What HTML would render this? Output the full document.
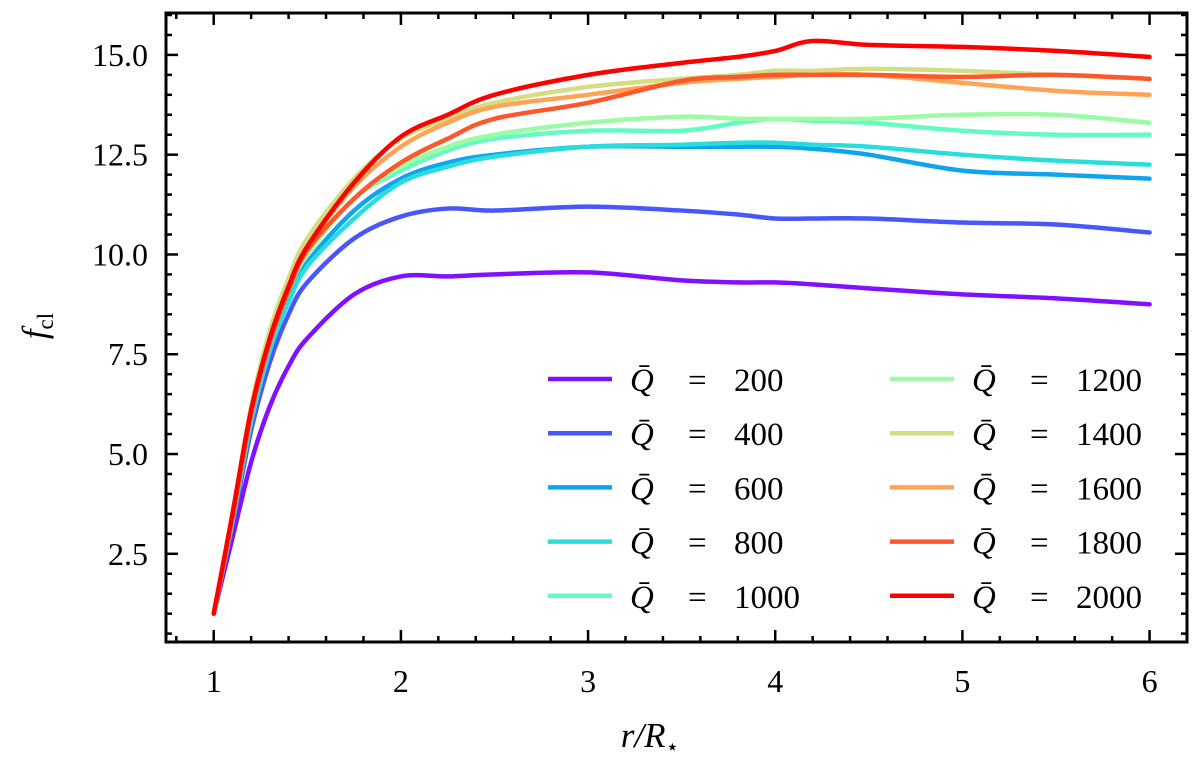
<!DOCTYPE html>
<html><head><meta charset="utf-8"><style>
html,body{margin:0;padding:0;background:#fff;}
svg{display:block;font-family:"Liberation Serif","DejaVu Serif",serif;}
</style></head><body>
<svg id="chart" width="1200" height="767" viewBox="0 0 1200 767" xmlns="http://www.w3.org/2000/svg">
<g id="lines"></g>
<g id="axes"></g>
<g id="legend"></g>
</svg>
<script>
const xs = [1,1.1,1.2,1.3,1.4,1.5,1.75,2,2.25,2.5,3,3.5,3.8,4,4.2,4.5,5,5.5,6];
const labels = ["200","400","600","800","1000","1200","1400","1600","1800","2000"];
const colors = ["#8010ff","#4757fb","#0ea4f0","#2adddd","#63fbc3","#9cfba4","#d4dd80","#ffa457","#ff572c","#ff0000"];
const q200  = [1,2.9,4.8,6.2,7.2,7.9,9.0,9.45,9.45,9.5,9.55,9.35,9.3,9.3,9.25,9.15,9.0,8.9,8.75];
const q400  = [1,3.2,5.6,7.3,8.5,9.3,10.4,10.95,11.15,11.1,11.2,11.1,11.0,10.9,10.9,10.9,10.8,10.75,10.55];
const q600  = [1,3.3,5.8,7.6,8.9,9.8,11.1,11.9,12.3,12.5,12.7,12.7,12.7,12.7,12.65,12.5,12.1,12.0,11.9];
const q800  = [1,3.3,5.8,7.6,8.8,9.7,10.9,11.8,12.2,12.45,12.7,12.75,12.8,12.8,12.75,12.7,12.5,12.35,12.25];
const q1000 = [1,3.4,6.0,7.8,9.1,10.0,11.4,12.1,12.6,12.9,13.1,13.1,13.3,13.4,13.35,13.3,13.1,13.0,13.0];
const q1200 = [1,3.4,6.0,7.8,9.1,10.0,11.4,12.2,12.7,13.0,13.3,13.45,13.4,13.4,13.4,13.4,13.5,13.5,13.3];
const q1400 = [1,3.5,6.2,8.1,9.4,10.4,11.9,12.9,13.4,13.8,14.2,14.4,14.5,14.6,14.6,14.65,14.6,14.5,14.4];
const q1600 = [1,3.4,6.1,7.9,9.2,10.2,11.7,12.7,13.3,13.7,14.0,14.3,14.4,14.45,14.5,14.5,14.3,14.1,14.0];
const q1800 = [1,3.4,6.0,7.8,9.1,10.1,11.4,12.3,12.9,13.4,13.8,14.35,14.45,14.5,14.5,14.5,14.45,14.5,14.4];
const q2000 = [1,3.5,6.1,7.9,9.2,10.2,11.8,12.95,13.5,14.0,14.5,14.8,14.95,15.1,15.35,15.25,15.2,15.1,14.95];
const series = [q200,q400,q600,q800,q1000,q1200,q1400,q1600,q1800,q2000];
const xTicks = [1,2,3,4,5,6];
const yTicks = [2.5,5.0,7.5,10.0,12.5,15.0];

const L=166,R=1187,T=13,B=642;
const xMin=0.745,xMax=6.2,yMin=0.29,yMax=16.05;
const sx=v=>L+(v-xMin)/(xMax-xMin)*(R-L);
const sy=v=>B-(v-yMin)/(yMax-yMin)*(B-T);
const NS="http://www.w3.org/2000/svg";
function mk(tag,attrs,parent){const e=document.createElementNS(NS,tag);for(const k in attrs)e.setAttribute(k,attrs[k]);parent.appendChild(e);return e;}

function pathFor(vals){
  const p=xs.map((x,i)=>[sx(x),sy(vals[i])]);
  let d="M"+p[0][0]+","+p[0][1];
  for(let i=0;i<p.length-1;i++){
    const p0=p[Math.max(0,i-1)],p1=p[i],p2=p[i+1],p3=p[Math.min(p.length-1,i+2)];
    const c1=[p1[0]+(p2[0]-p0[0])/6,p1[1]+(p2[1]-p0[1])/6];
    const c2=[p2[0]-(p3[0]-p1[0])/6,p2[1]-(p3[1]-p1[1])/6];
    d+=" C"+c1[0]+","+c1[1]+" "+c2[0]+","+c2[1]+" "+p2[0]+","+p2[1];
  }
  return d;
}
const lg=document.getElementById('lines');
series.forEach((s,i)=>{
  const e=mk('path',{d:pathFor(s),fill:'none',stroke:colors[i],'stroke-width':4.5,'stroke-linejoin':'round','stroke-linecap':'round'},lg);
  
  
});

const ax=document.getElementById('axes');
const frame=mk('rect',{x:L,y:T,width:R-L,height:B-T,fill:'none',stroke:'#000','stroke-width':3},ax);


for(let k=0;k<=27;k++){
  const v=0.8+k*0.2; if(v>xMax) break;
  const major=Math.abs(v-Math.round(v))<1e-6; const len=major?12:6; const X=sx(v);
  mk('line',{x1:X,x2:X,y1:B,y2:B-len,stroke:'#000','stroke-width':2.5},ax);
  mk('line',{x1:X,x2:X,y1:T,y2:T+len,stroke:'#000','stroke-width':2.5},ax);
}
for(let k=0;k<=40;k++){
  const v=0.5+k*0.5; if(v>yMax) break;
  const major=Math.abs(v/2.5-Math.round(v/2.5))<1e-6; const len=major?12:6; const Y=sy(v);
  mk('line',{x1:L,x2:L+len,y1:Y,y2:Y,stroke:'#000','stroke-width':2.5},ax);
  mk('line',{x1:R,x2:R-len,y1:Y,y2:Y,stroke:'#000','stroke-width':2.5},ax);
}
xTicks.forEach(v=>{
  const t=mk('text',{x:sx(v),y:692,'font-size':32,'text-anchor':'middle'},ax);t.textContent=String(v);
  
  
});
yTicks.forEach(v=>{
  const t=mk('text',{x:148,y:sy(v)+11,'font-size':32,'text-anchor':'end'},ax);t.textContent=v.toFixed(1);
  
  
});
const xl=mk('text',{x:650,y:747,'font-size':35,'text-anchor':'middle','font-style':'italic'},ax);
xl.innerHTML='r/R<tspan font-size="22" dy="7" font-style="normal">⋆</tspan>';


const yl=mk('text',{x:0,y:0,'font-size':35,'text-anchor':'middle','font-style':'italic',transform:'translate(46,326) rotate(-90)'},ax);
yl.innerHTML='f<tspan font-size="23" dy="7" font-style="normal">cl</tspan>';



const lgd=document.getElementById('legend');
labels.forEach((lab,i)=>{
  const col=Math.floor(i/5),row=i%5;
  const lx=col?890:548, ly=379+row*54.2;
  const g=mk('g',{},lgd);
  
  
  mk('line',{x1:lx,x2:lx+64,y1:ly,y2:ly,stroke:colors[i],'stroke-width':4.5},g);
  const t=mk('text',{x:lx+82,y:ly+12,'font-size':33},g);
  t.innerHTML='<tspan font-style="italic">Q̄</tspan><tspan x="'+(lx+140)+'">=</tspan><tspan x="'+(lx+186)+'">'+lab+'</tspan>';
});
</script>
</body></html>
